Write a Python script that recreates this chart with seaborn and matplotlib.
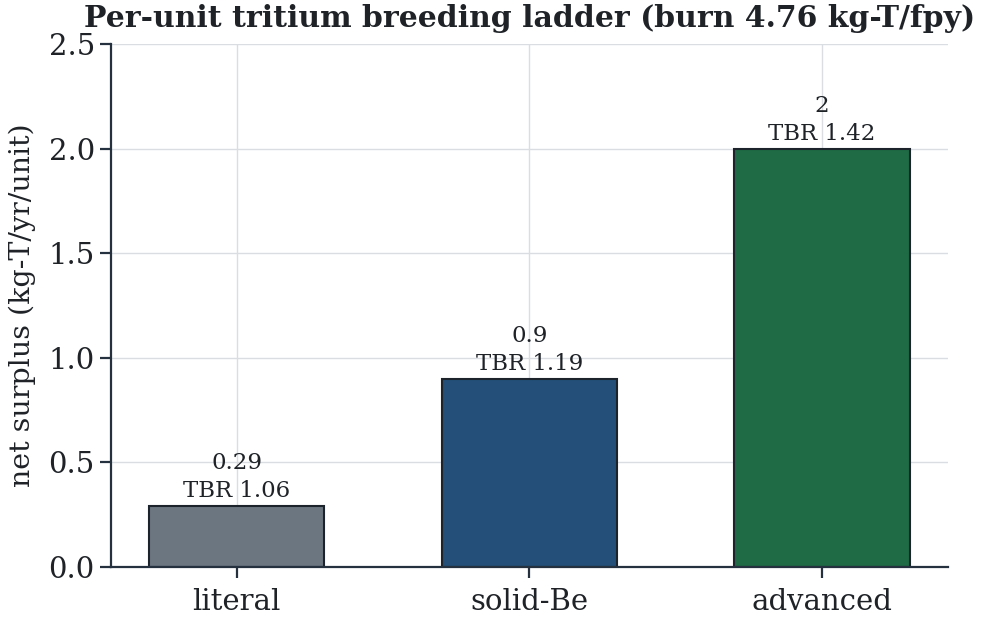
import numpy as np
import pandas as pd
import matplotlib
matplotlib.use("Agg")
import matplotlib.pyplot as plt
import seaborn as sns

designs = ["literal", "solid-Be", "advanced"]
net_surplus = [0.29, 0.9, 2.0]
tbr = [1.06, 1.19, 1.42]
surplus_labels = ["0.29", "0.9", "2"]
bar_colors = ["#6b7681", "#234f78", "#1f6b45"]

TEXT = "#1f2328"
SPINE = "#263140"

sns.set_theme(style="whitegrid")
plt.rcParams["font.family"] = ["DejaVu Serif"]
plt.rcParams["axes.edgecolor"] = SPINE
plt.rcParams["grid.color"] = "#dadee3"
plt.rcParams["text.color"] = TEXT
plt.rcParams["xtick.color"] = TEXT
plt.rcParams["ytick.color"] = TEXT
plt.rcParams["axes.labelcolor"] = TEXT

df = pd.DataFrame({"design": designs, "surplus": net_surplus})

fig, ax = plt.subplots(figsize=(9.89, 6.21), dpi=100)
fig.subplots_adjust(left=0.112, right=0.9585, top=0.929, bottom=0.087)

sns.barplot(data=df, x="design", y="surplus", hue="design", palette=bar_colors,
            saturation=1, width=0.6, edgecolor="#1c232b", linewidth=1.5,
            legend=False, ax=ax)

for i, p in enumerate(ax.patches):
    ax.annotate(f"{surplus_labels[i]}\nTBR {tbr[i]:.2f}",
                (p.get_x() + p.get_width() / 2, p.get_height()),
                xytext=(0, 3), textcoords="offset points",
                ha="center", va="bottom", fontsize=16.5, linespacing=1.35)

ax.set_xlim(-0.43, 2.43)
ax.set_ylim(0, 2.5)
ax.set_yticks(np.arange(0, 2.51, 0.5))
ax.set_xlabel("")
ax.set_ylabel("net surplus (kg-T/yr/unit)", fontsize=20.5, labelpad=9)
ax.set_title("Per-unit tritium breeding ladder (burn 4.76 kg-T/fpy)",
             fontsize=21.5, fontweight="bold", pad=12)
ax.tick_params(axis="both", labelsize=21, length=8, width=1.6, direction="out",
               bottom=True, left=True, color=SPINE)
ax.tick_params(axis="x", pad=7)
ax.grid(True, axis="both", linewidth=1.0)
ax.set_axisbelow(True)
for side in ["top", "right"]:
    ax.spines[side].set_visible(False)
for side in ["left", "bottom"]:
    ax.spines[side].set_linewidth(1.6)
    ax.spines[side].set_color(SPINE)

fig.savefig("out.png", dpi=100)
